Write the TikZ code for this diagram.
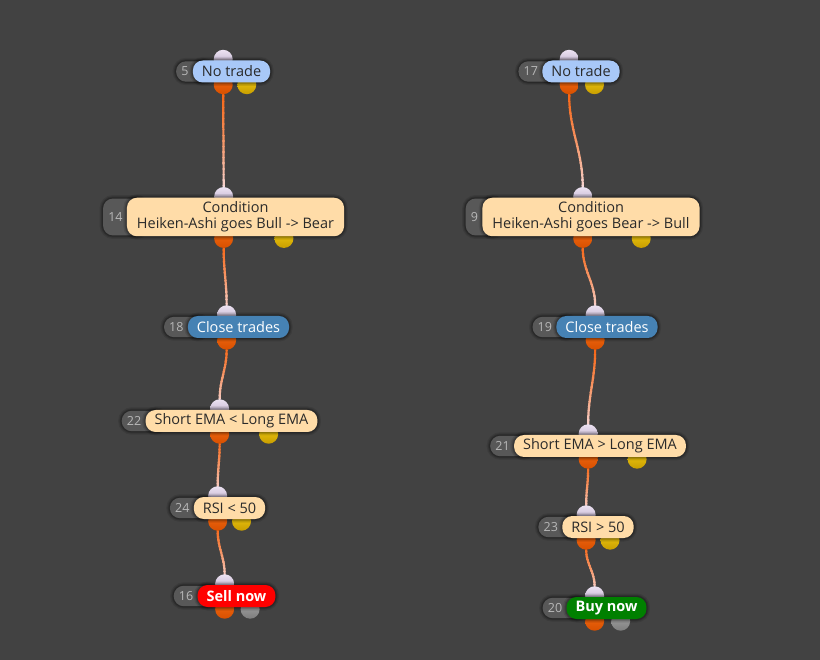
\documentclass[tikz,border=0pt]{standalone}
\usepackage{fontspec}
\setmainfont{Open Sans}
\usetikzlibrary{calc}
\definecolor{bg}{HTML}{424242}
\definecolor{idgray}{HTML}{585858}
\definecolor{idtext}{HTML}{B8B8B8}
\definecolor{peach}{HTML}{FFDCA8}
\definecolor{skyb}{HTML}{A8C8F8}
\definecolor{steel}{HTML}{4682B4}
\definecolor{inktext}{HTML}{2A2A2A}
\definecolor{orangeP}{HTML}{D85000}
\definecolor{orangeL}{HTML}{F26A14}
\definecolor{wireOr}{HTML}{F65E08}
\definecolor{lavT}{HTML}{ECE2F2}
\definecolor{lavB}{HTML}{B6A6C4}
\definecolor{yelT}{HTML}{F4CE14}
\definecolor{yelB}{HTML}{C89E00}
\definecolor{grT}{HTML}{A8A8A8}
\definecolor{grB}{HTML}{7E7E7E}
\definecolor{wireEnd}{HTML}{F6EAF6}
\definecolor{sellred}{HTML}{FF0000}
\definecolor{buygreen}{HTML}{008000}
\pgfdeclarelayer{bgl}
\pgfdeclarelayer{conn}
\pgfdeclarelayer{ports}
\pgfdeclarelayer{ids}
\pgfsetlayers{bgl,conn,ports,ids,main}
\tikzset{
  softshadow/.style={
    preaction={draw=black, line width=7pt, draw opacity=0.10},
    preaction={draw=black, line width=4.5pt, draw opacity=0.14},
    preaction={draw=black, line width=2.5pt, draw opacity=0.18}},
  pill/.style={rounded corners=10pt, minimum height=22pt, inner xsep=9pt, inner ysep=0pt,
    font=\fontsize{14.5}{16}\selectfont, text=inktext, softshadow},
  peachpill/.style={pill, fill=peach},
  skypill/.style={pill, fill=skyb},
  steelpill/.style={pill, fill=steel, text=white},
  sellpill/.style={pill, fill=sellred, text=white, font=\fontsize{14.5}{16}\selectfont\bfseries},
  buypill/.style={pill, fill=buygreen, text=white, font=\fontsize{14.5}{16}\selectfont\bfseries},
  twoline/.style={peachpill, align=center, inner ysep=4pt, inner xsep=10pt},
  idlabel/.style={inner sep=0pt, text=idtext, font=\fontsize{12.5}{14}\selectfont},
  idfill/.style={fill=idgray, rounded corners=10pt, softshadow},
  portbase/.style={circle, minimum size=19pt, inner sep=0pt},
  inport/.style={portbase, top color=lavT, bottom color=lavB},
  outport/.style={portbase, top color=orangeL, bottom color=orangeP},
  yport/.style={portbase, top color=yelT, bottom color=yelB},
  gport/.style={portbase, top color=grT, bottom color=grB},
  wire/.style={line width=2.2pt, line cap=round}
}
\newcommand\flownode[7]{%
  \node[#5] (#1) at (#2,#3) {#6};
  \node[idlabel, anchor=east] (#1-id) at ([xshift=-4pt]#1.west) {#4};
  \coordinate (#1-gl) at (#1-id.west |- #1.north);
  \coordinate (#1-gr) at (#1.west |- #1.south);
  \begin{pgfonlayer}{ids}
    \fill[idfill] ([xshift=-5pt,yshift=-1pt]#1-gl) rectangle ([xshift=20pt,yshift=1pt]#1-gr);
  \end{pgfonlayer}
  \coordinate (#1-c) at ($([xshift=-5pt]#1-gl)!0.5!(#1.east)$);
  \coordinate (#1-q) at ($([xshift=-5pt]#1-gl)!0.75!(#1.east)$);
  \coordinate (#1-t) at (#1-c |- #1.north);
  \coordinate (#1-b) at (#1-c |- #1.south);
  \coordinate (#1-b2) at (#1-q |- #1.south);
  \begin{pgfonlayer}{ports}
    \node[inport] (#1-in) at ([yshift=1pt]#1-t) {};
    \node[outport] (#1-out) at ([yshift=-2pt]#1-b) {};
    \if\relax\detokenize{#7}\relax\else
      \node[#7] (#1-aux) at ([yshift=-2pt]#1-b2) {};
    \fi
  \end{pgfonlayer}
}
\newcommand\wire[2]{%
  \begin{pgfonlayer}{conn}
  \foreach \k in {0,...,19}{
    \pgfmathsetmacro\ta{\k/20}
    \pgfmathsetmacro\tb{(\k+1.08)/20}
    \pgfmathsetmacro\mix{100*(1-\k/19)^0.7}
    \begin{scope}
      \clip ([xshift=-60pt]$(#1)!\ta!(#2)$) rectangle ([xshift=60pt]$(#1)!\tb!(#2)$);
      \draw[wire, draw=wireOr!\mix!wireEnd] (#1) to[out=-90,in=90] (#2);
    \end{scope}
  }
  \end{pgfonlayer}
}
\begin{document}
\begin{tikzpicture}[x=1pt, y=-1pt]
  \begin{pgfonlayer}{bgl}
    \fill[bg] (0,0) rectangle (820,660);
  \end{pgfonlayer}
  \useasboundingbox (0,0) rectangle (820,660);
  % left chain
  \flownode{n5}{231.5}{71.5}{5}{skypill}{No trade}{yport}
  \flownode{n14}{235.5}{217}{14}{twoline}{Condition\\Heiken-Ashi goes Bull -> Bear}{yport}
  \flownode{n18}{238.5}{327}{18}{steelpill}{Close trades}{}
  \flownode{n22}{231.5}{421}{22}{peachpill}{Short EMA < Long EMA}{yport}
  \flownode{n24}{229.5}{508}{24}{peachpill}{RSI < 50}{yport}
  \flownode{n16}{236.5}{596}{16}{sellpill}{Sell now}{gport}
  % right chain
  \flownode{n17}{581}{71.5}{17}{skypill}{No trade}{yport}
  \flownode{n9}{591}{217}{9}{twoline}{Condition\\Heiken-Ashi goes Bear -> Bull}{yport}
  \flownode{n19}{607}{327}{19}{steelpill}{Close trades}{}
  \flownode{n21}{600}{446}{21}{peachpill}{Short EMA > Long EMA}{yport}
  \flownode{n23}{598}{527}{23}{peachpill}{RSI > 50}{yport}
  \flownode{n20}{606.5}{608}{20}{buypill}{Buy now}{gport}
  % connectors
  \wire{n5-out}{n14-in}
  \wire{n14-out}{n18-in}
  \wire{n18-out}{n22-in}
  \wire{n22-out}{n24-in}
  \wire{n24-out}{n16-in}
  \wire{n17-out}{n9-in}
  \wire{n9-out}{n19-in}
  \wire{n19-out}{n21-in}
  \wire{n21-out}{n23-in}
  \wire{n23-out}{n20-in}
\end{tikzpicture}
\end{document}
